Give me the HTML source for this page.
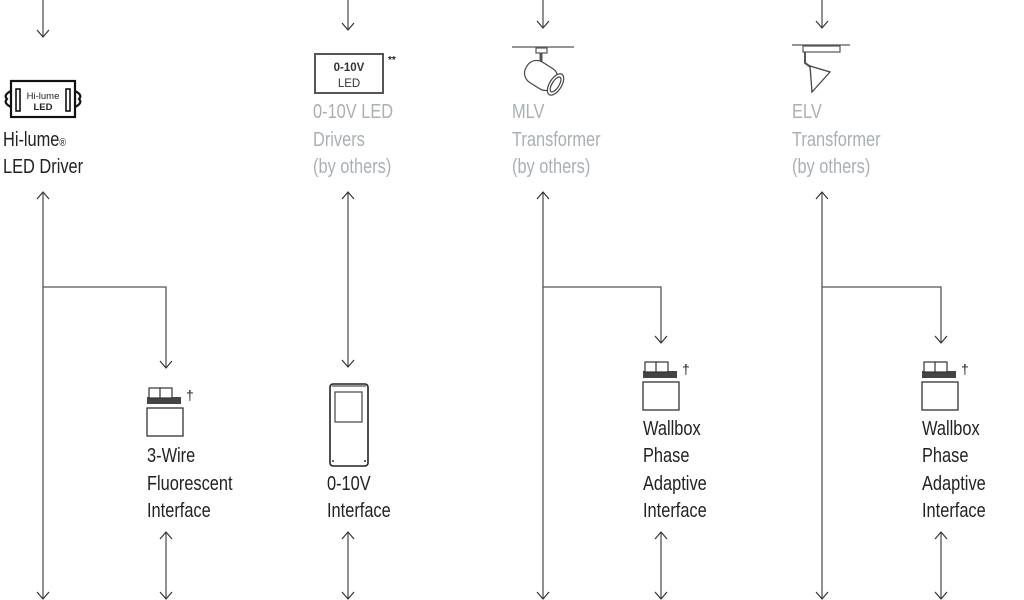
<!DOCTYPE html>
<html><head><meta charset="utf-8"><style>
html,body{margin:0;padding:0;background:#fff;width:1024px;height:600px;overflow:hidden}
svg{display:block}
text{font-family:"Liberation Sans",sans-serif;font-size:20px}
.d{fill:#222}
.g{fill:#a9b0b4}
</style></head><body>
<svg width="1024" height="600" viewBox="0 0 1024 600" xmlns="http://www.w3.org/2000/svg">
<defs>
<g id="dn"><path d="M-6,-7 L0,0 L6,-7" fill="none" stroke="#333" stroke-width="1.2"/></g>
<g id="up"><path d="M-6,7 L0,0 L6,7" fill="none" stroke="#333" stroke-width="1.2"/></g>
<g id="wb">
<rect x="0" y="24" width="36" height="28" fill="#fff" stroke="#333" stroke-width="1.3"/>
<rect x="0" y="13" width="34" height="7" fill="#444"/>
<rect x="2" y="4" width="12" height="10" fill="#fff" stroke="#333" stroke-width="1.2"/>
<rect x="13" y="4" width="12" height="10" fill="#fff" stroke="#333" stroke-width="1.2"/>
<text x="39" y="16" class="d" style="font-size:14px">†</text>
</g>
</defs>
<g stroke="#555" stroke-width="1.3" fill="none">
<line x1="43" y1="0" x2="43" y2="37"/>
<line x1="43" y1="192" x2="43" y2="599"/>
<polyline points="43,287 166,287 166,368"/>
<line x1="166" y1="532" x2="166" y2="599"/>
<line x1="348" y1="0" x2="348" y2="30"/>
<line x1="348" y1="192" x2="348" y2="367"/>
<line x1="348" y1="532" x2="348" y2="599"/>
<line x1="543" y1="0" x2="543" y2="28"/>
<line x1="543" y1="192" x2="543" y2="599"/>
<polyline points="543,287 661,287 661,343"/>
<line x1="661" y1="532" x2="661" y2="599"/>
<line x1="822" y1="0" x2="822" y2="28"/>
<line x1="822" y1="192" x2="822" y2="599"/>
<polyline points="822,287 941,287 941,343"/>
<line x1="941" y1="532" x2="941" y2="599"/>
</g>
<use href="#dn" x="43" y="37"/><use href="#up" x="43" y="192"/><use href="#dn" x="43" y="599"/>
<use href="#dn" x="166" y="368"/><use href="#up" x="166" y="532"/><use href="#dn" x="166" y="599"/>
<use href="#dn" x="348" y="30"/><use href="#up" x="348" y="192"/><use href="#dn" x="348" y="367"/>
<use href="#up" x="348" y="532"/><use href="#dn" x="348" y="599"/>
<use href="#dn" x="543" y="28"/><use href="#up" x="543" y="192"/><use href="#dn" x="543" y="599"/>
<use href="#dn" x="661" y="343"/><use href="#up" x="661" y="532"/><use href="#dn" x="661" y="599"/>
<use href="#dn" x="822" y="28"/><use href="#up" x="822" y="192"/><use href="#dn" x="822" y="599"/>
<use href="#dn" x="941" y="343"/><use href="#up" x="941" y="532"/><use href="#dn" x="941" y="599"/>

<rect x="11" y="81" width="64" height="36" fill="#fff" stroke="#111" stroke-width="2.2"/>
<path d="M11,91 Q3,95 7,99 Q3,103 11,107" fill="none" stroke="#111" stroke-width="2.2"/>
<path d="M75,91 Q83,95 79,99 Q83,103 75,107" fill="none" stroke="#111" stroke-width="2.2"/>
<rect x="16" y="89" width="4" height="22" fill="none" stroke="#111" stroke-width="1.6"/>
<rect x="66" y="89" width="4" height="22" fill="none" stroke="#111" stroke-width="1.6"/>
<text x="43" y="99" text-anchor="middle" class="d" style="font-size:9.5px">Hi-lume</text>
<text x="43" y="110" text-anchor="middle" class="d" style="font-size:9.5px;font-weight:bold">LED</text>
<text x="3" y="146" class="d" transform="scale(0.82,1)" transform-origin="3 0">Hi-lume<tspan style="font-size:11px">®</tspan></text>
<text x="3" y="173" class="d" transform="scale(0.82,1)" transform-origin="3 0">LED Driver</text>

<rect x="315" y="54" width="68" height="39" fill="#fff" stroke="#555" stroke-width="2"/>
<text x="349" y="71" text-anchor="middle" fill="#333" style="font-size:11.5px;font-weight:bold">0-10V</text>
<text x="349" y="87" text-anchor="middle" fill="#333" style="font-size:11.5px">LED</text>
<text x="388" y="63" fill="#222" style="font-size:10px;font-weight:bold">**</text>
<text x="313" y="118" class="g" transform="scale(0.82,1)" transform-origin="313 0">0-10V LED</text>
<text x="313" y="146" class="g" transform="scale(0.82,1)" transform-origin="313 0">Drivers</text>
<text x="313" y="173" class="g" transform="scale(0.82,1)" transform-origin="313 0">(by others)</text>

<line x1="512" y1="47" x2="574" y2="47" stroke="#555" stroke-width="1.3"/>
<rect x="536" y="48" width="11" height="5" fill="none" stroke="#555" stroke-width="1.2"/>
<line x1="541" y1="53" x2="541" y2="64" stroke="#555" stroke-width="3"/>
<g transform="rotate(32 542 76)" fill="#fff" stroke="#444" stroke-width="1.2">
<rect x="524" y="64" width="34" height="24" rx="11"/>
<ellipse cx="558" cy="76" rx="6" ry="12"/>
<ellipse cx="558" cy="76" rx="3.5" ry="8.5"/>
</g>
<text x="512" y="118" class="g" transform="scale(0.82,1)" transform-origin="512 0">MLV</text>
<text x="512" y="146" class="g" transform="scale(0.82,1)" transform-origin="512 0">Transformer</text>
<text x="512" y="173" class="g" transform="scale(0.82,1)" transform-origin="512 0">(by others)</text>

<line x1="792" y1="45" x2="850" y2="45" stroke="#555" stroke-width="1.3"/>
<rect x="803" y="46" width="37" height="6" fill="none" stroke="#555" stroke-width="1.2"/>
<path d="M805,52 L805,63 L812,68" fill="none" stroke="#555" stroke-width="2"/>
<path d="M810,66 L830,72 L812,92 Z" fill="#fff" stroke="#444" stroke-width="1.3"/>
<text x="792" y="118" class="g" transform="scale(0.82,1)" transform-origin="792 0">ELV</text>
<text x="792" y="146" class="g" transform="scale(0.82,1)" transform-origin="792 0">Transformer</text>
<text x="792" y="173" class="g" transform="scale(0.82,1)" transform-origin="792 0">(by others)</text>

<use href="#wb" x="147" y="384"/>
<text x="147" y="462" class="d" transform="scale(0.82,1)" transform-origin="147 0">3-Wire</text>
<text x="147" y="490" class="d" transform="scale(0.82,1)" transform-origin="147 0">Fluorescent</text>
<text x="147" y="517" class="d" transform="scale(0.82,1)" transform-origin="147 0">Interface</text>

<rect x="330" y="384" width="38" height="82" rx="3" fill="#fff" stroke="#222" stroke-width="1.6"/>
<line x1="332" y1="386" x2="366" y2="386" stroke="#222"/>
<rect x="335" y="392" width="27" height="30" fill="none" stroke="#444" stroke-width="1.2"/>
<circle cx="333" cy="461" r="1" fill="#333"/><circle cx="365" cy="461" r="1" fill="#333"/>
<text x="327" y="490" class="d" transform="scale(0.82,1)" transform-origin="327 0">0-10V</text>
<text x="327" y="517" class="d" transform="scale(0.82,1)" transform-origin="327 0">Interface</text>

<use href="#wb" x="643" y="358"/>
<text x="643" y="435" class="d" transform="scale(0.82,1)" transform-origin="643 0">Wallbox</text>
<text x="643" y="462" class="d" transform="scale(0.82,1)" transform-origin="643 0">Phase</text>
<text x="643" y="490" class="d" transform="scale(0.82,1)" transform-origin="643 0">Adaptive</text>
<text x="643" y="517" class="d" transform="scale(0.82,1)" transform-origin="643 0">Interface</text>

<use href="#wb" x="922" y="358"/>
<text x="922" y="435" class="d" transform="scale(0.82,1)" transform-origin="922 0">Wallbox</text>
<text x="922" y="462" class="d" transform="scale(0.82,1)" transform-origin="922 0">Phase</text>
<text x="922" y="490" class="d" transform="scale(0.82,1)" transform-origin="922 0">Adaptive</text>
<text x="922" y="517" class="d" transform="scale(0.82,1)" transform-origin="922 0">Interface</text>
</svg>
</body></html>
